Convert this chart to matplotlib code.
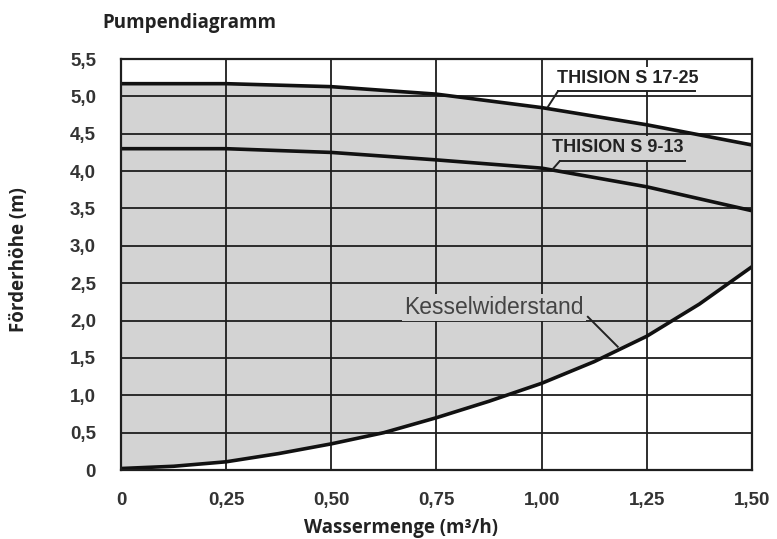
import matplotlib.pyplot as plt

# Pumpendiagramm - Förderhöhe über Wassermenge
x_ticks = [0, 0.25, 0.5, 0.75, 1.0, 1.25, 1.5]
x_tick_labels = ["0", "0,25", "0,50", "0,75", "1,00", "1,25", "1,50"]
y_ticks = [0, 0.5, 1.0, 1.5, 2.0, 2.5, 3.0, 3.5, 4.0, 4.5, 5.0, 5.5]
y_tick_labels = ["0", "0,5", "1,0", "1,5", "2,0", "2,5", "3,0", "3,5", "4,0", "4,5", "5,0", "5,5"]

pump_x = [0, 0.25, 0.5, 0.6, 0.75, 1.0, 1.25, 1.5]
s17_25 = [5.17, 5.17, 5.13, 5.09, 5.03, 4.85, 4.62, 4.35]
s9_13 = [4.30, 4.30, 4.25, 4.21, 4.15, 4.04, 3.79, 3.47]

kessel_x = [0, 0.125, 0.25, 0.375, 0.5, 0.625, 0.75, 0.875, 1.0, 1.125, 1.25, 1.375, 1.5]
kessel = [0.02, 0.05, 0.11, 0.22, 0.35, 0.50, 0.70, 0.92, 1.16, 1.45, 1.79, 2.22, 2.72]

fig = plt.figure(figsize=(7.77, 5.39), dpi=100)
ax = fig.add_axes([0.1557, 0.128, 0.812, 0.7625])

# graue Fläche zwischen Kesselwiderstand und Pumpenkennlinie
ax.fill(pump_x + kessel_x[::-1], s17_25 + kessel[::-1], color="#d3d3d3", lw=0, zorder=1)

# Gitter
for xv in x_ticks[1:-1]:
    ax.axvline(xv, color="#1e1e1e", lw=1.3, zorder=2)
for yv in y_ticks[1:-1]:
    ax.axhline(yv, color="#1e1e1e", lw=1.3, zorder=2)

ax.plot(pump_x, s17_25, color="#111111", lw=2.6, zorder=4)
ax.plot(pump_x, s9_13, color="#111111", lw=2.6, zorder=4)
ax.plot(kessel_x, kessel, color="#111111", lw=2.6, zorder=4)

ax.set_xlim(0, 1.5)
ax.set_ylim(0, 5.5)
ax.set_xticks(x_ticks)
ax.set_xticklabels(x_tick_labels)
ax.set_yticks(y_ticks)
ax.set_yticklabels(y_tick_labels)
ax.tick_params(axis="y", length=0, pad=18, labelsize=13.5, labelcolor="#333333")
ax.tick_params(axis="x", length=0, pad=16, labelsize=13.5, labelcolor="#333333")
for lbl in ax.get_xticklabels() + ax.get_yticklabels():
    lbl.set_fontfamily("Liberation Sans")
    lbl.set_fontweight("bold")
for sp in ax.spines.values():
    sp.set_color("#1e1e1e")
    sp.set_linewidth(1.6)
    sp.set_zorder(5)

# Beschriftungen der Kurven
lab = dict(family="Liberation Sans", fontsize=13, fontweight="bold", color="#222222", zorder=7)
ax.text(1.036, 5.24, "THISION S 17-25", va="center", ha="left",
        bbox=dict(fc="white", ec="none", pad=2.5), **lab)
ax.plot([1.039, 1.364], [5.07, 5.07], color="#222222", lw=1.4, zorder=6)
ax.plot([1.039, 1.015], [5.07, 4.86], color="#222222", lw=1.4, zorder=6)

ax.text(1.025, 4.31, "THISION S 9-13", va="center", ha="left",
        bbox=dict(fc="#d3d3d3", ec="none", pad=2.5), **lab)
ax.plot([1.044, 1.341], [4.14, 4.14], color="#222222", lw=1.4, zorder=6)
ax.plot([1.044, 1.027], [4.14, 4.03], color="#222222", lw=1.4, zorder=6)

ax.text(0.673, 2.17, "Kesselwiderstand", family="Liberation Sans", fontsize=16.5,
        color="#444444", va="center", ha="left", zorder=7,
        bbox=dict(fc="#d3d3d3", ec="none", pad=1.5))
ax.plot([1.110, 1.181], [2.05, 1.65], color="#222222", lw=1.4, zorder=6)

fig.text(0.132, 0.958, "Pumpendiagramm", family="Open Sans", fontweight="bold",
         fontsize=13.5, color="#222222", ha="left", va="center")
fig.text(0.516, 0.020, "Wassermenge (m³/h)", family="Open Sans", fontweight="bold",
         fontsize=13.5, color="#222222", ha="center", va="center")
fig.text(0.025, 0.518, "Förderhöhe (m)", family="Open Sans", fontweight="bold",
         fontsize=13.5, color="#222222", ha="center", va="center", rotation=90)

plt.savefig("out.png", dpi=100)
